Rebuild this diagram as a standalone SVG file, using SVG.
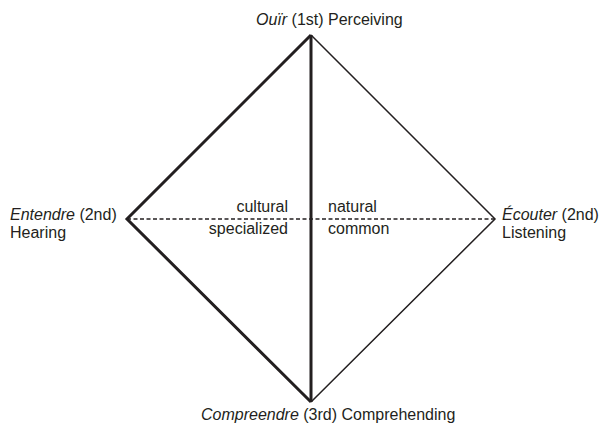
<svg xmlns="http://www.w3.org/2000/svg" width="601" height="426" viewBox="0 0 601 426">
<style>
text{font-family:"Liberation Sans",Arial,sans-serif;font-size:16px;fill:#231f20}
.thick{stroke:#231f20;stroke-width:3;fill:none;stroke-linejoin:miter}
.thin{stroke:#231f20;stroke-width:1.5;fill:none}
.dash{stroke:#231f20;stroke-width:1.5;stroke-dasharray:4,2.5;fill:none}
</style>
<rect width="601" height="426" fill="#fff"/>
<g id="connectors">
<line class="dash" x1="127" y1="219" x2="495" y2="219"/>
<polyline class="thin" points="311,35 495,219 311,402"/>
<polyline class="thick" points="311,35 127,219 311,402"/>
<line class="thick" x1="311" y1="35" x2="311" y2="402"/>
</g>
<g id="top"><text x="256" y="25"><tspan font-style="italic">Ouïr</tspan> (1st) Perceiving</text></g>
<g id="left"><text x="10" y="220"><tspan font-style="italic">Entendre</tspan> (2nd)</text><text x="10" y="238">Hearing</text></g>
<g id="right"><text x="502" y="220"><tspan font-style="italic">Écouter</tspan> (2nd)</text><text x="502" y="238">Listening</text></g>
<g id="bottom"><text x="201" y="420"><tspan font-style="italic">Compreendre</tspan> (3rd) Comprehending</text></g>
<g id="labels">
<text x="288" y="212" text-anchor="end">cultural</text>
<text x="288" y="234" text-anchor="end">specialized</text>
<text x="328" y="212">natural</text>
<text x="328" y="234">common</text>
</g>
</svg>
